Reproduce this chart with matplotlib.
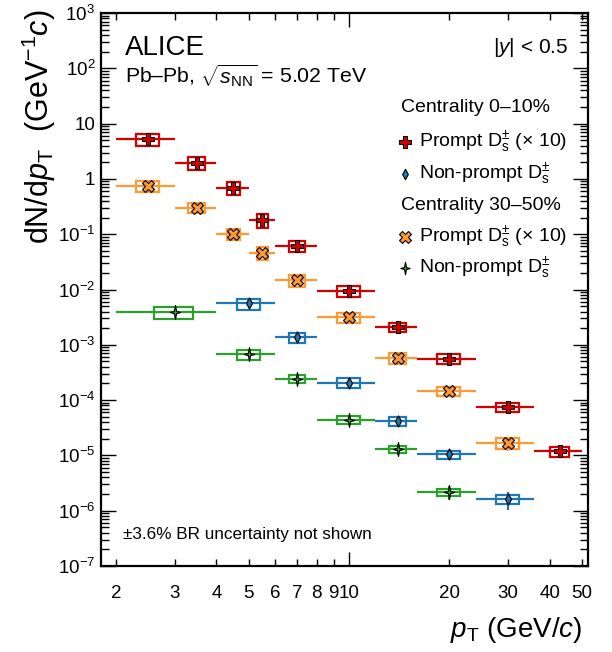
import numpy as np
import matplotlib
matplotlib.use("Agg")
import matplotlib.pyplot as plt
from matplotlib.patches import Rectangle
from matplotlib.path import Path
from matplotlib.ticker import FixedLocator, FixedFormatter, NullFormatter

plt.rcParams['font.family'] = ['Liberation Sans', 'DejaVu Sans']
plt.rcParams['mathtext.fontset'] = 'custom'
plt.rcParams['mathtext.rm'] = 'Liberation Sans'
plt.rcParams['mathtext.it'] = 'Liberation Sans:italic'
plt.rcParams['mathtext.bf'] = 'Liberation Sans:bold'

# ---------------- data ----------------
# Prompt Ds, 0-10% (x10)
red_lo = [2, 3, 4, 5, 6, 8, 12, 16, 24, 36]
red_hi = [3, 4, 5, 6, 8, 12, 16, 24, 36, 50]
red_x = [2.5, 3.5, 4.5, 5.5, 7, 10, 14, 20, 30, 43]
red_y = [5.2, 1.96, 0.69, 0.18, 0.062, 0.0094, 0.00207, 5.6e-4, 7.5e-5, 1.2e-5]
red_syst = [0.245, 0.25, 0.257, 0.277, 0.232, 0.218, 0.19, 0.198, 0.178, 0.205]
red_stat = [0.05, 0.05, 0.06, 0.07, 0.08, 0.08, 0.10, 0.12, 0.20, 0.25]

# Non-prompt Ds, 0-10%
blue_lo = [4, 6, 8, 12, 16, 24]
blue_hi = [6, 8, 12, 16, 24, 36]
blue_x = [5, 7, 10, 14, 20, 30]
blue_y = [0.0056, 1.37e-3, 2.06e-4, 4.2e-5, 1.05e-5, 1.6e-6]
blue_syst = [0.225, 0.205, 0.198, 0.178, 0.165, 0.185]
blue_stat = [0.10, 0.10, 0.12, 0.20, 0.20, 0.36]

# Prompt Ds, 30-50% (x10)
orange_lo = [2, 3, 4, 5, 6, 8, 12, 16, 24]
orange_hi = [3, 4, 5, 6, 8, 12, 16, 24, 36]
orange_x = [2.5, 3.5, 4.5, 5.5, 7, 10, 14, 20, 30]
orange_y = [0.75, 0.30, 0.10, 0.046, 0.0147, 0.00314, 5.85e-4, 1.46e-4, 1.7e-5]
orange_syst = [0.218, 0.205, 0.218, 0.258, 0.245, 0.218, 0.225, 0.185, 0.225]
orange_stat = [0.04, 0.05, 0.06, 0.07, 0.08, 0.10, 0.12, 0.15, 0.28]

# Non-prompt Ds, 30-50%
green_lo = [2, 4, 6, 8, 12, 16]
green_hi = [4, 6, 8, 12, 16, 24]
green_x = [3, 5, 7, 10, 14, 20]
green_y = [0.00387, 6.8e-4, 2.41e-4, 4.4e-5, 1.3e-5, 2.18e-6]
green_syst = [0.258, 0.205, 0.165, 0.16, 0.14, 0.15]
green_stat = [0.15, 0.12, 0.15, 0.20, 0.22, 0.28]

x_minor_ticks = [2, 3, 4, 5, 6, 7, 8, 9, 20, 30, 40, 50]
x_minor_labels = ['2', '3', '4', '5', '6', '7', '8', '9', '20', '30', '40', '50']
x_major_ticks = [10]
x_major_labels = ['10']
y_ticks = [1e3, 1e2, 1e1, 1e0, 1e-1, 1e-2, 1e-3, 1e-4, 1e-5, 1e-6, 1e-7]
y_labels = [r'$10^{3}$', r'$10^{2}$', '10', '1', r'$10^{-1}$', r'$10^{-2}$',
            r'$10^{-3}$', r'$10^{-4}$', r'$10^{-5}$', r'$10^{-6}$', r'$10^{-7}$']

# ---------------- style ----------------
C_RED = '#d40000'
C_BLUE = '#1f77b4'
C_ORANGE = '#ff9933'
C_GREEN = '#2ca02c'

star_verts = [(0, 1), (0.16, 0.16), (0.75, 0), (0.16, -0.16), (0, -1),
              (-0.16, -0.16), (-0.75, 0), (-0.16, 0.16), (0, 1)]
star_codes = [Path.MOVETO] + [Path.LINETO] * 7 + [Path.CLOSEPOLY]
STAR = Path(star_verts, star_codes)

dia_verts = [(0, 1), (0.55, 0), (0, -1), (-0.55, 0), (0, 1)]
dia_codes = [Path.MOVETO] + [Path.LINETO] * 3 + [Path.CLOSEPOLY]
DIAMOND = Path(dia_verts, dia_codes)

W, H = 612, 652
fig = plt.figure(figsize=(W / 100, H / 100), dpi=100)
ax = fig.add_axes([100.7 / W, 1 - 566 / H, (587.7 - 100.7) / W, (566 - 13) / H])
ax.set_xscale('log')
ax.set_yscale('log')
ax.set_xlim(1.8, 52)
ax.set_ylim(1e-7, 1e3)


def draw_series(lo, hi, x, y, syst, stat, color, marker, ms, mew=0.8):
    lo = np.array(lo, float); hi = np.array(hi, float)
    x = np.array(x, float); y = np.array(y, float)
    syst = np.array(syst); stat = np.array(stat)
    for l, h, xc, yc, s in zip(lo, hi, x, y, syst):
        bw = 0.4 * (h - l)
        ax.add_patch(Rectangle((xc - bw / 2, yc * (1 - s)), bw, 2 * s * yc,
                               fill=False, edgecolor=color, linewidth=1.6, zorder=2))
    ax.errorbar(x, y, xerr=[x - lo, hi - x], yerr=[y * stat, y * stat],
                fmt='none', ecolor=color, elinewidth=1.6, capsize=0, zorder=3)
    ax.plot(x, y, linestyle='none', marker=marker, markersize=ms,
            markerfacecolor=color, markeredgecolor='black', markeredgewidth=mew, zorder=4)


draw_series(red_lo, red_hi, red_x, red_y, red_syst, red_stat, C_RED, 'P', 9)
draw_series(orange_lo, orange_hi, orange_x, orange_y, orange_syst, orange_stat, C_ORANGE, 'X', 9)
draw_series(blue_lo, blue_hi, blue_x, blue_y, blue_syst, blue_stat, C_BLUE, DIAMOND, 8)
draw_series(green_lo, green_hi, green_x, green_y, green_syst, green_stat, C_GREEN, STAR, 10)

# ---------------- axes style ----------------
ax.xaxis.set_major_locator(FixedLocator(x_major_ticks))
ax.xaxis.set_major_formatter(FixedFormatter(x_major_labels))
ax.xaxis.set_minor_locator(FixedLocator(x_minor_ticks))
ax.xaxis.set_minor_formatter(FixedFormatter(x_minor_labels))
ax.yaxis.set_major_locator(FixedLocator(y_ticks))
ax.yaxis.set_major_formatter(FixedFormatter(y_labels))
yminor = [m * 10.0 ** e for e in range(-7, 3) for m in range(2, 10)]
ax.yaxis.set_minor_locator(FixedLocator(yminor))
ax.yaxis.set_minor_formatter(NullFormatter())

ax.tick_params(axis='both', which='both', direction='in', top=True, right=True,
               labelsize=13.5, width=1.0)
ax.tick_params(axis='x', which='major', length=10, pad=14)
ax.tick_params(axis='x', which='minor', length=5, pad=14)
ax.tick_params(axis='y', which='major', length=11, pad=4)
ax.tick_params(axis='y', which='minor', length=5.5)
for sp in ax.spines.values():
    sp.set_linewidth(1.6)


def ft(xp, yp, s, **kw):
    fig.text(xp / W, 1 - yp / H, s, **kw)


ft(125, 55, 'ALICE', fontsize=20, ha='left', va='baseline')
ft(125, 83, r'Pb–Pb, $\sqrt{s_{\mathrm{NN}}}$ = 5.02 TeV', fontsize=15.3, ha='left', va='baseline')
ft(568, 53, r'$|y|$ < 0.5', fontsize=15, ha='right', va='baseline')

# legend
ft(400.7, 108, 'Centrality 0–10%', fontsize=14, ha='left', va='center')
ft(400.7, 206, 'Centrality 30–50%', fontsize=14, ha='left', va='center')
leg_rows = [
    (141.7, C_RED, 'P', 8, r'Prompt $\mathrm{D}_{\mathrm{s}}^{\pm}$ (× 10)'),
    (174.0, C_BLUE, DIAMOND, 7.5, r'Non-prompt $\mathrm{D}_{\mathrm{s}}^{\pm}$'),
    (236.7, C_ORANGE, 'X', 8, r'Prompt $\mathrm{D}_{\mathrm{s}}^{\pm}$ (× 10)'),
    (268.0, C_GREEN, STAR, 9, r'Non-prompt $\mathrm{D}_{\mathrm{s}}^{\pm}$'),
]
for yp, col, mk, ms, lab in leg_rows:
    fig.lines.append(plt.Line2D([405 / W], [1 - yp / H], transform=fig.transFigure,
                                linestyle='none', marker=mk, markersize=ms,
                                markerfacecolor=col, markeredgecolor='black',
                                markeredgewidth=0.8))
    ft(419.3, yp, lab, fontsize=14, ha='left', va='center')

ft(123, 534, '±3.6% BR uncertainty not shown', fontsize=12.3, ha='left', va='center')

ft(582, 637, r'$p_{\mathrm{T}}$ (GeV/$c$)', fontsize=20, ha='right', va='baseline')
ft(39, 9, r'd$\mathrm{N}$/d$p_{\mathrm{T}}$  (GeV$^{-1}$$c$)', fontsize=22,
   ha='center', va='top', rotation=90)

fig.savefig('out.png', dpi=100)
